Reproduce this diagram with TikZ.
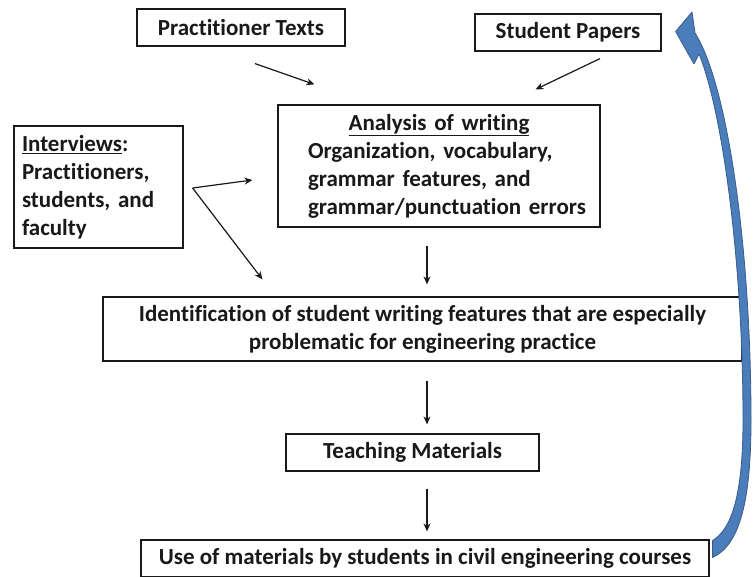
\documentclass[tikz,border=0pt]{standalone}
\usepackage{fontspec}
\setmainfont{Carlito}[Ligatures={NoCommon}]
\usetikzlibrary{arrows.meta,calc}
\definecolor{inkblack}{RGB}{25,25,25}
\definecolor{loopblue}{RGB}{74,125,186}
\definecolor{loopedge}{RGB}{56,93,138}
\tikzset{
  base/.style={font=\bfseries\fontsize{23}{28}\selectfont, text=inkblack, inner sep=0pt},
  box/.style={base, rectangle, draw=inkblack, line width=1.2pt, fill=white},
  arr/.style={-{Stealth[length=8pt,width=7pt,inset=2.5pt]}, line width=1.2pt, draw=inkblack},
  loopback/.style={fill=loopblue, draw=loopedge, line width=0.8pt, line join=round},
}

\begin{document}
\begin{tikzpicture}[x=1pt,y=-1pt]
  \useasboundingbox (0,0) rectangle (753,577);
  % sources
  \node[box,minimum width=208pt,minimum height=37pt] (prac) at (241,27.5) {Practitioner Texts};
  \node[box,minimum width=186pt,minimum height=37pt] (stud) at (568,32.5) {Student Papers};
  \node[box,text width=153pt,align=left,minimum width=169pt,minimum height=122pt] (intv) at (98.5,187)
    {\underline{Interviews}:\\Practitioners,\\students, and\\faculty};
  \node[box,text width=300pt,align=left,minimum width=322pt,minimum height=122pt] (anal) at (439,166)
    {\hbox to\hsize{\hss\underline{Analysis of writing}\hss}\\\hspace*{19pt}Organization, vocabulary,\\\hspace*{19pt}grammar features, and\\\hspace*{19pt}grammar/punctuation errors};
  % main flow
  \node[box,align=center,minimum width=639pt,minimum height=64pt] (ident) at (422.5,329)
    {Identification of student writing features that are especially\\problematic for engineering practice};
  \node[box,minimum width=253pt,minimum height=37pt] (teach) at (412.5,452.5) {Teaching Materials};
  \node[box,minimum width=568pt,minimum height=37pt] (use) at (425,558.5) {Use of materials by students in civil engineering courses};
  % arrows
  \coordinate (col) at (427,0);
  \draw[arr] ($(prac.south)+(14,17)$) -- ($(anal.north west)+(37,-20)$);
  \draw[arr] ($(stud.south)+(32,7)$) -- ($(anal.north east)+(-65,-15)$);
  \coordinate (fork) at ($(intv.east)+(9,1)$);
  \draw[arr] (fork) -- ($(anal.west)+(-25,14)$);
  \draw[arr] (fork) -- ($(ident.north west)+(160,-17)$);
  \draw[arr,shorten <=18pt,shorten >=12pt] (anal.south -| col) -- (ident.north -| col);
  \draw[arr,shorten <=19pt,shorten >=9pt] (ident.south -| col) -- (teach.north -| col);
  \draw[arr,shorten <=17pt,shorten >=8pt] (teach.south -| col) -- (use.north -| col);
  % feedback loop
  \coordinate (looptip) at ($(stud.east)+(14,-1)$);
  \coordinate (loopbase) at ($(use.east)+(3,-10)$);
  \filldraw[loopback] (looptip) -- (692,12) -- (695,33)
    .. controls (728,85) and (751,250) .. (751,420)
    .. controls (751,500) and (740,545) .. ($(loopbase)+(0,9)$)
    -- ($(loopbase)+(0,-8)$)
    .. controls (730,530) and (743,500) .. (743,420)
    .. controls (743,260) and (722,110) .. (699,54)
    -- (694,64) -- cycle;
\end{tikzpicture}
\end{document}
